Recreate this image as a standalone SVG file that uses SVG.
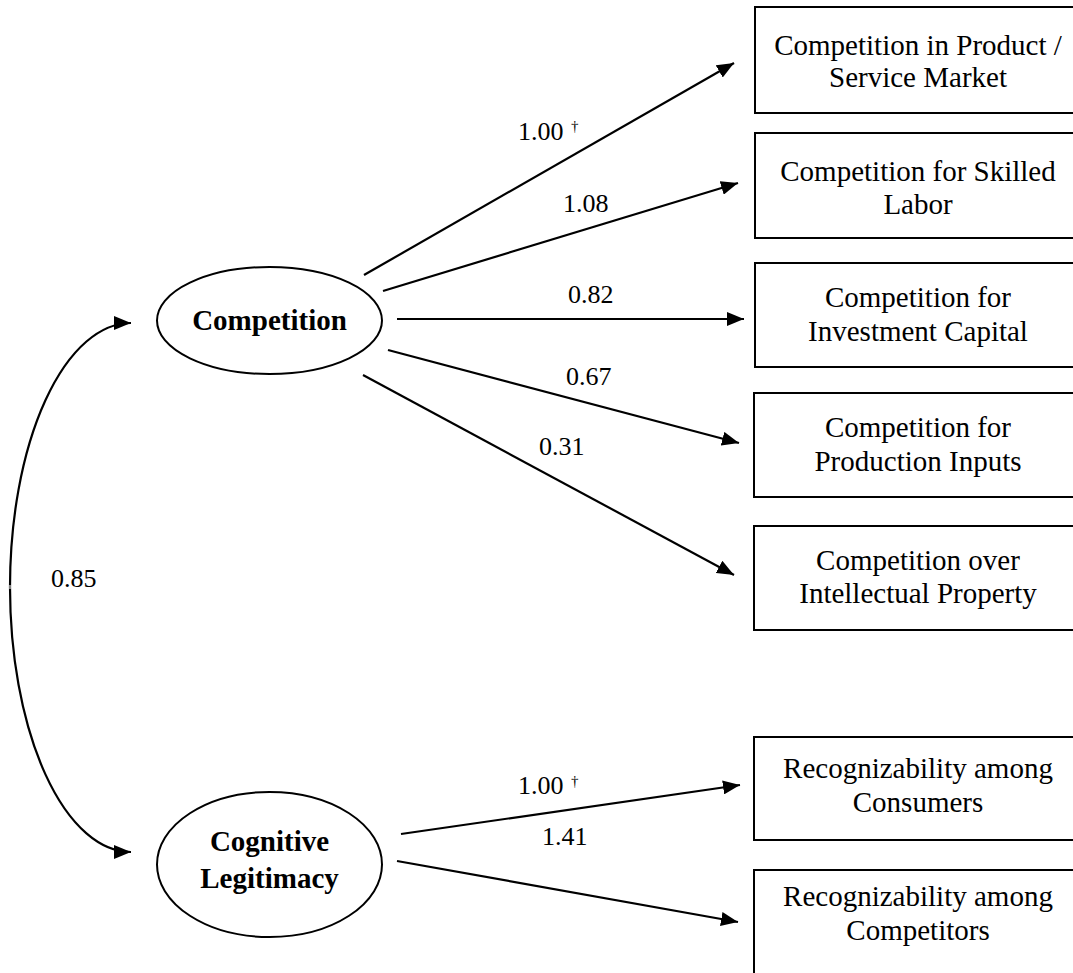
<svg xmlns="http://www.w3.org/2000/svg" width="1073" height="973" viewBox="0 0 1073 973">
<style>
  .box{fill:#fff;stroke:#000;stroke-width:2}
  .ell{fill:#fff;stroke:#000;stroke-width:2}
  .bt{font-family:"Liberation Serif","Times New Roman",serif;font-size:29px;text-anchor:middle;fill:#000}
  .et{font-family:"Liberation Serif","Times New Roman",serif;font-size:29px;font-weight:bold;text-anchor:middle;fill:#000}
  .lb{font-family:"Liberation Serif","Times New Roman",serif;font-size:26px;fill:#000}
  .dg{font-size:15px}
  .cn{fill:none;stroke:#000;stroke-width:2.2;marker-end:url(#ah)}
</style>
<defs>
  <marker id="ah" markerUnits="userSpaceOnUse" markerWidth="18" markerHeight="14" refX="17" refY="7" orient="auto-start-reverse">
    <path d="M0,0 L17,7 L0,14 z" fill="#000"/>
  </marker>
</defs>
<rect width="1073" height="973" fill="#fff"/>

<g id="connectors">
  <line class="cn" x1="364" y1="275" x2="734" y2="63"/>
  <line class="cn" x1="383" y1="291" x2="738" y2="183"/>
  <line class="cn" x1="397" y1="319" x2="744" y2="319"/>
  <line class="cn" x1="388" y1="350" x2="739" y2="443"/>
  <line class="cn" x1="363" y1="375" x2="734" y2="575"/>
  <line class="cn" x1="401" y1="834" x2="740" y2="785"/>
  <line class="cn" x1="397" y1="861" x2="738" y2="922"/>
  <path class="cn" style="marker-start:url(#ah)" d="M131,323 A121,264 0 0,0 10,587 A121,265 0 0,0 131,852"/>
  <line x1="10" y1="585" x2="10" y2="589" stroke="#fff" stroke-width="1"/>
</g>

<g id="labels">
  <text class="lb" x="518" y="140">1.00<tspan class="dg" x="571" y="131">†</tspan></text>
  <text class="lb" x="563" y="212">1.08</text>
  <text class="lb" x="568" y="303">0.82</text>
  <text class="lb" x="566" y="385">0.67</text>
  <text class="lb" x="539" y="455">0.31</text>
  <text class="lb" x="51" y="587">0.85</text>
  <text class="lb" x="518" y="794">1.00<tspan class="dg" x="571" y="786">†</tspan></text>
  <text class="lb" x="542" y="845">1.41</text>
</g>

<g id="competition">
  <ellipse class="ell" cx="269.5" cy="320.5" rx="112.5" ry="53.5"/>
  <text class="et" x="269.5" y="330">Competition</text>
</g>
<g id="cognitive-legitimacy">
  <ellipse class="ell" cx="269.5" cy="864.5" rx="112.5" ry="72.5"/>
  <text class="et" x="269.5" y="851">Cognitive</text>
  <text class="et" x="269.5" y="888">Legitimacy</text>
</g>

<g id="ind-product-market">
  <rect class="box" x="755" y="7" width="330" height="106"/>
  <text class="bt" x="918" y="55">Competition in Product /</text>
  <text class="bt" x="918" y="87">Service Market</text>
</g>
<g id="ind-skilled-labor">
  <rect class="box" x="755" y="133" width="330" height="105"/>
  <text class="bt" x="918" y="181">Competition for Skilled</text>
  <text class="bt" x="918" y="214">Labor</text>
</g>
<g id="ind-investment-capital">
  <rect class="box" x="755" y="263" width="330" height="104"/>
  <text class="bt" x="918" y="307">Competition for</text>
  <text class="bt" x="918" y="341">Investment Capital</text>
</g>
<g id="ind-production-inputs">
  <rect class="box" x="754" y="393" width="330" height="104"/>
  <text class="bt" x="918" y="437">Competition for</text>
  <text class="bt" x="918" y="471">Production Inputs</text>
</g>
<g id="ind-intellectual-property">
  <rect class="box" x="754" y="526" width="330" height="104"/>
  <text class="bt" x="918" y="570">Competition over</text>
  <text class="bt" x="918" y="603">Intellectual Property</text>
</g>
<g id="ind-consumers">
  <rect class="box" x="754" y="737" width="330" height="103"/>
  <text class="bt" x="918" y="778">Recognizability among</text>
  <text class="bt" x="918" y="812">Consumers</text>
</g>
<g id="ind-competitors">
  <rect class="box" x="754" y="870" width="330" height="110"/>
  <text class="bt" x="918" y="906">Recognizability among</text>
  <text class="bt" x="918" y="940">Competitors</text>
</g>
</svg>
